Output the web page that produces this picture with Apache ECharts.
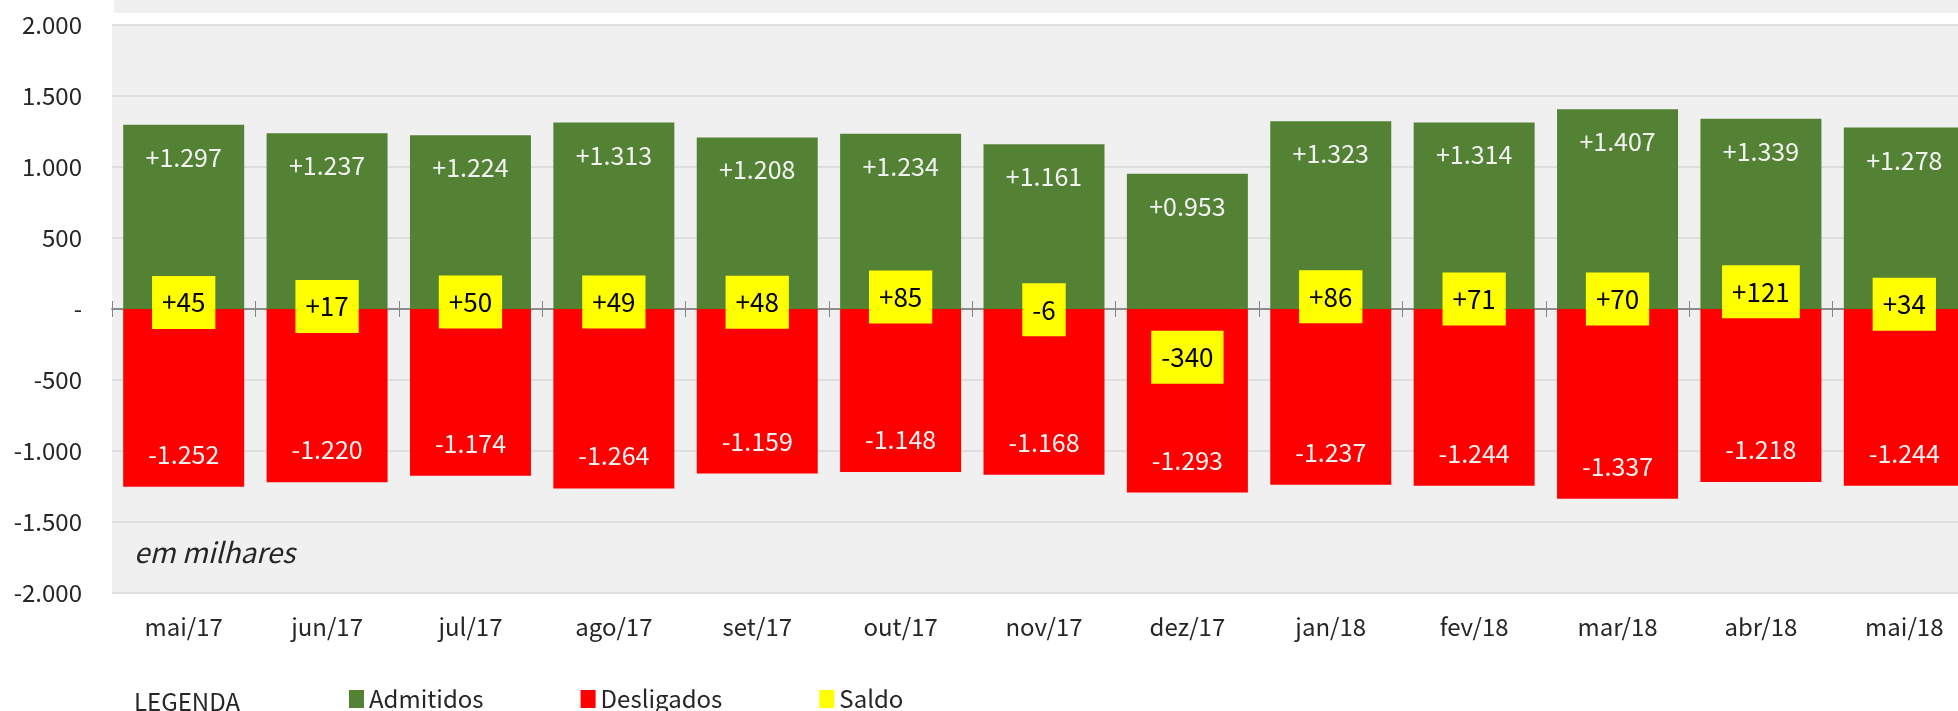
<!DOCTYPE html>
<html>
<head>
<meta charset="utf-8">
<title>Admitidos x Desligados</title>
<script src="https://cdn.jsdelivr.net/npm/echarts@6/dist/echarts.min.js"></script>
<style>
  html, body { margin: 0; padding: 0; background: #fff; overflow: hidden; }
  #chart { width: 1958px; height: 711px; }
</style>
</head>
<body>
<div id="chart"></div>
<script>
// months on the x axis
const months = ['mai/17', 'jun/17', 'jul/17', 'ago/17', 'set/17', 'out/17', 'nov/17',
  'dez/17', 'jan/18', 'fev/18', 'mar/18', 'abr/18', 'mai/18']
// values in thousands
const admitidos = [1297, 1237, 1224, 1313, 1208, 1234, 1161, 953, 1323, 1314, 1407, 1339, 1278]
const desligados = [-1252, -1220, -1174, -1264, -1159, -1148, -1168, -1293, -1237, -1244, -1337, -1218, -1244]
const saldo = [45, 17, 50, 49, 48, 85, -6, -340, 86, 71, 70, 121, 34]

const font = '"Noto Sans CJK JP", "Noto Sans", sans-serif'
const colors = { admitidos: '#548235', desligados: '#FF0000', saldo: '#FFFF00' }

// 1250 -> "1.250", 0 -> "-"
function fmtAxis(v) {
  if (v === 0) return '-'
  const s = Math.abs(v).toString().replace(/\B(?=(\d{3})+(?!\d))/g, '.')
  return (v < 0 ? '-' : '') + s
}
// 953 -> "+0.953", -1252 -> "-1.252"
function fmtBar(v) {
  return (v < 0 ? '-' : '+') + (Math.abs(v) / 1000).toFixed(3)
}

const chart = echarts.init(document.getElementById('chart'))

chart.setOption({
  animation: false,
  textStyle: { fontFamily: font },
  grid: {
    left: 112,
    top: 25,
    width: 1864,
    height: 568,
    outerBoundsMode: 'none',
    show: true,
    backgroundColor: '#F0F0F0',
    borderWidth: 0
  },
  legend: {
    left: 344,
    top: 682,
    itemWidth: 15,
    itemHeight: 18,
    itemGap: 97,
    icon: 'rect',
    selectedMode: false,
    textStyle: { fontFamily: font, fontSize: 24, color: '#262626' },
    data: [
      { name: 'Admitidos', itemStyle: { color: colors.admitidos } },
      { name: 'Desligados', itemStyle: { color: colors.desligados } },
      { name: 'Saldo', itemStyle: { color: colors.saldo } }
    ]
  },
  graphic: [
    {
      type: 'rect',
      shape: { x: 114, y: 0, width: 1844, height: 13 },
      style: { fill: '#F0F0F0' }
    },
    {
      type: 'text',
      left: 134,
      top: 538,
      style: { text: 'em milhares', font: 'italic 28px ' + font, fill: '#262626' }
    },
    {
      type: 'text',
      left: 134,
      top: 690,
      style: { text: 'LEGENDA', font: '24px ' + font, fill: '#262626' }
    }
  ],
  xAxis: [{
    type: 'category',
    data: months,
    position: 'bottom',
    axisLine: { show: false, onZero: false },
    axisTick: { show: false },
    axisLabel: { fontSize: 24, color: '#262626', margin: 22, fontFamily: font }
  }, {
    // zero line, ticks going down
    type: 'category',
    data: months,
    axisLine: { onZero: true, onZeroAxisIndex: 0, lineStyle: { color: '#868686', width: 1.5 } },
    axisTick: { show: true, length: 8, lineStyle: { color: '#868686' } },
    axisLabel: { show: false }
  }, {
    // ticks going up, sits on the zero of the hidden second y axis
    type: 'category',
    data: months,
    axisLine: { onZero: true, onZeroAxisIndex: 1, lineStyle: { color: '#868686', width: 1.5 } },
    axisTick: { show: true, inside: true, length: 8, lineStyle: { color: '#868686' } },
    axisLabel: { show: false }
  }],
  yAxis: [{
    type: 'value',
    min: -2000,
    max: 2000,
    interval: 500,
    axisLine: { show: false },
    axisTick: { show: false },
    splitLine: { lineStyle: { color: '#D9D9D9', width: 1.5 } },
    axisLabel: {
      fontSize: 24,
      color: '#262626',
      margin: 30,
      fontFamily: font,
      formatter: fmtAxis
    }
  }, {
    type: 'value',
    min: -2000,
    max: 2000,
    interval: 500,
    show: false,
    splitLine: { show: false }
  }],
  series: [
    {
      name: 'Admitidos',
      type: 'bar',
      stack: 'mov',
      barWidth: 121,
      data: admitidos,
      itemStyle: { color: colors.admitidos },
      label: {
        show: true,
        position: 'insideTop',
        distance: 20,
        fontSize: 25,
        color: '#F2F2F2',
        fontFamily: font,
        formatter: p => fmtBar(p.value)
      }
    },
    {
      name: 'Desligados',
      type: 'bar',
      stack: 'mov',
      barWidth: 121,
      data: desligados,
      itemStyle: { color: colors.desligados },
      label: {
        show: true,
        position: 'insideBottom',
        distance: 20,
        fontSize: 25,
        color: '#F2F2F2',
        fontFamily: font,
        formatter: p => fmtBar(p.value)
      }
    },
    {
      name: 'Saldo',
      type: 'scatter',
      z: 5,
      symbolSize: 1,
      data: saldo,
      itemStyle: { color: 'rgba(0,0,0,0)', opacity: 1 },
      label: {
        show: true,
        position: 'inside',
        fontSize: 26,
        lineHeight: 31,
        color: '#000',
        backgroundColor: colors.saldo,
        padding: [11, 10],
        fontFamily: font,
        formatter: p => (p.value > 0 ? '+' : '') + p.value
      }
    }
  ]
})
</script>
</body>
</html>
